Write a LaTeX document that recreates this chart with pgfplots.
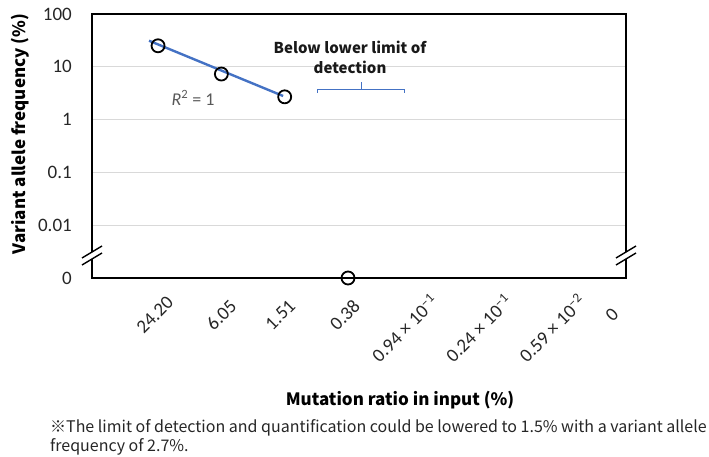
\documentclass[border=0pt]{standalone}
\usepackage{fontspec}
\usepackage{pgfplots}
\pgfplotsset{compat=1.18}
\setmainfont{Carlito}
\newfontfamily\jp{Noto Sans CJK JP}
\definecolor{lineblue}{HTML}{4472C4}
\definecolor{gridgray}{HTML}{D9D9D9}
\begin{document}
\begin{tikzpicture}[x=1pt,y=1pt]
\path[use as bounding box] (0,0) rectangle (709,456);
\begin{axis}[
  at={(92pt,178pt)}, anchor=south west,
  scale only axis, width=534pt, height=264pt,
  ymode=log, ymin=0.001, ymax=100,
  xmin=-0.043, xmax=8.39,
  clip=false,
  axis line style={line width=1.6pt, black},
  xtick={0.95,2,2.93,3.95,8.17},
  xticklabels={24.20,6.05,1.51,0.38,0},
  extra x ticks={4.89,6.06,7.22},
  extra x tick labels={{0.94 × 10\textsuperscript{−1}},{0.24 × 10\textsuperscript{−1}},{0.59 × 10\textsuperscript{−2}}},
  extra x tick style={xticklabel shift=50pt},
  xticklabel style={rotate=45, anchor=center, inner sep=0pt},
  xticklabel shift=37pt,
  xtick style={draw=none},
  ytick={0.001,0.01,0.1,1,10,100},
  yticklabels={0,0.01,0.1,1,10,100},
  yticklabel style={anchor=east, inner sep=0pt, xshift=-20pt},
  ytick style={draw=none},
  yminorticks=false,
  ymajorgrids, major grid style={draw=gridgray, line width=0.8pt},
  ticklabel style={font=\fontsize{19}{22}\selectfont, text=black!85},
]
\addplot[lineblue, line width=2.4pt, no marks] coordinates {(0.858,31.2) (2.975,2.8)};
\addplot[only marks, mark=o, mark size=6.5pt, mark options={line width=1.8pt, black}] coordinates {(1,25) (2,7.3) (3,2.7) (4,0.001)};
\end{axis}
% axis breaks
\foreach \cx in {92,626}{
  \fill[white] (\cx-10,191) -- (\cx+10,203) -- (\cx+10,210) -- (\cx-10,198) -- cycle;
  \draw[line width=1.4pt] (\cx-10,191) -- (\cx+10,203);
  \draw[line width=1.4pt] (\cx-10,198) -- (\cx+10,210);
}
% bracket
\draw[lineblue, line width=1pt] (317,363) -- (317,366) -- (404,366) -- (404,363);
\draw[lineblue, line width=1pt] (361,366) -- (361,374);
\node[font=\jp\bfseries\fontsize{15}{20}\selectfont, align=center, text=black!90] at (350,399) {Below lower limit of\\detection};
\node[font=\fontsize{18}{20}\selectfont, text=black!65] at (193,358) {\textit{R}\textsuperscript{2} = 1};
% axis titles
\node[rotate=90, font=\jp\bfseries\fontsize{17}{20}\selectfont] at (20,322) {Variant allele frequency (\%)};
\node[font=\jp\bfseries\fontsize{17}{20}\selectfont] at (400,56) {Mutation ratio in input (\%)};
\node[anchor=north west, align=left, inner sep=0pt, font=\jp\fontsize{16}{19}\selectfont, text=black!85] at (50,37) {※The limit of detection and quantification could be lowered to 1.5\% with a variant allele\\frequency of 2.7\%.};
\end{tikzpicture}
\end{document}
